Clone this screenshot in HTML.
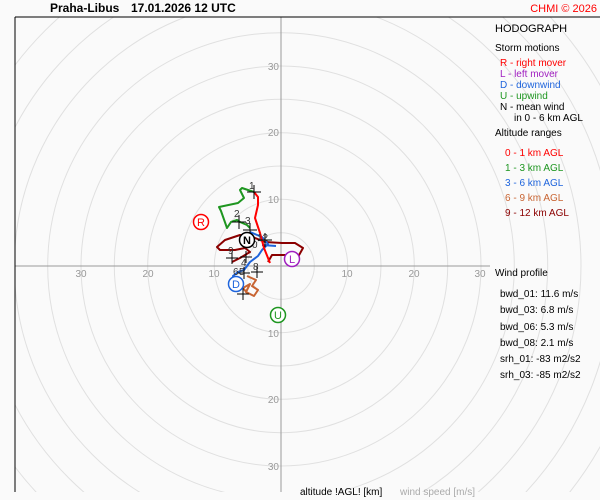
<!DOCTYPE html>
<html><head><meta charset="utf-8"><style>
html,body{margin:0;background:#fafafa;width:600px;height:500px;overflow:hidden}
svg{display:block;font-family:"Liberation Sans",sans-serif}
</style></head><body>
<svg width="600" height="500" viewBox="0 0 600 500">
<rect width="600" height="500" fill="#fafafa"/>
<defs><clipPath id="c"><rect x="15" y="17" width="585" height="475"/></clipPath></defs>
<g clip-path="url(#c)" fill="none" stroke="#e0e0e0" stroke-width="1">
<circle cx="281" cy="266" r="33.3"/><circle cx="281" cy="266" r="66.7"/><circle cx="281" cy="266" r="100"/>
<circle cx="281" cy="266" r="133.3"/><circle cx="281" cy="266" r="166.7"/><circle cx="281" cy="266" r="200"/>
<circle cx="281" cy="266" r="233.3"/><circle cx="281" cy="266" r="266.7"/><circle cx="281" cy="266" r="300"/>
<circle cx="281" cy="266" r="333.3"/><circle cx="281" cy="266" r="366.7"/>
</g>
<line x1="281" y1="17" x2="281" y2="492" stroke="#999"/>
<line x1="15" y1="266" x2="490" y2="266" stroke="#999"/>
<line x1="15" y1="17" x2="600" y2="17" stroke="#000"/>
<line x1="15" y1="17" x2="15" y2="492" stroke="#000"/>
<g fill="#999" font-size="10" text-anchor="end">
<text x="279" y="70">30</text><text x="279" y="136">20</text><text x="279" y="203">10</text>
<text x="279" y="337">10</text><text x="279" y="403">20</text><text x="279" y="470">30</text>
</g>
<g fill="#999" font-size="10" text-anchor="middle">
<text x="81" y="277">30</text><text x="148" y="277">20</text><text x="214" y="277">10</text>
<text x="347" y="277">10</text><text x="414" y="277">20</text><text x="480" y="277">30</text>
</g>
<g fill="none" stroke-width="2" stroke-linejoin="round">
<polyline stroke="#8b0000" points="268,262 272,255 285,255 298,257 303,248 295,243 282,243 265,242 250,236 240,235 225,240 217,247 220,250 235,250 245,248 250,252 240,258 232,262"/>
<polyline stroke="#1e64dc" points="250,232 262,237 268,244 262,250 258,256 250,262 244,270 238,272 233,276 236,282"/>
<polyline stroke="#1e64dc" points="262,245 276,246"/>
<polyline stroke="#c86432" points="247,276 256,280 252,286 258,290 254,296 246,292 250,284 243,288 248,294"/>
<polyline stroke="#ff0000" points="270,263 264,248 260,233 255,218 258,205 258,197 254,192"/>
<polyline stroke="#1e9620" points="254,192 242,188 240,190 244,198 238,203 219,207 221,211 227,228 231,222 237,220 240,222 247,225 250,228"/>
</g>
<g stroke="#000" stroke-width="1">
<path d="M247,192h14M254,185v14M232,222h14M239,215v14M243,230h14M250,223v14M258,240h14M265,233v14M226,258h12M232,252v12M240,257h12M246,251v12M238,273h12M244,267v12M251,272h12M257,266v12M237,294h12M243,288v12"/>
</g>
<g font-size="10" fill="#333">
<text x="249" y="189">1</text><text x="234" y="217">2</text><text x="245" y="224">3</text><text x="257" y="241">12</text>
<text x="252" y="248">0</text><text x="228" y="254">9</text><text x="241" y="266">4</text><text x="233" y="275">6</text><text x="239" y="275">5</text><text x="253" y="270">8</text>
</g>
<g font-size="11" font-weight="bold" text-anchor="middle" stroke-width="1.5">
<circle cx="247" cy="240" r="7.5" fill="#fff" stroke="#000"/><text x="247" y="244" fill="#000">N</text>
<circle cx="292" cy="259" r="7.5" fill="#fff" stroke="#a020c0"/><text x="292" y="263" fill="#a020c0" font-weight="normal">L</text>
<circle cx="201" cy="222" r="7.5" fill="#fff" stroke="#ff0000"/><text x="201" y="226" fill="#ff0000" font-weight="normal">R</text>
<circle cx="236" cy="284" r="7.5" fill="#fff" stroke="#1e64dc"/><text x="236" y="288" fill="#1e64dc" font-weight="normal">D</text>
<circle cx="278" cy="315" r="7.5" fill="#fff" stroke="#1e9620"/><text x="278" y="319" fill="#1e9620" font-weight="normal">U</text>
</g>
<text x="50" y="12" font-size="12" font-weight="bold">Praha-Libus</text>
<text x="131" y="12" font-size="12" font-weight="bold">17.01.2026 12 UTC</text>
<text x="597" y="12" font-size="11" fill="#ff0000" text-anchor="end">CHMI © 2026</text>
<g font-size="10">
<text x="495" y="32" font-size="11">HODOGRAPH</text>
<text x="495" y="51">Storm motions</text>
<text x="500" y="66" fill="#ff0000">R - right mover</text>
<text x="500" y="77" fill="#a020c0">L - left mover</text>
<text x="500" y="88" fill="#1e64dc">D - downwind</text>
<text x="500" y="99" fill="#1e9620">U - upwind</text>
<text x="500" y="110">N - mean wind</text>
<text x="514" y="121">in 0 - 6 km AGL</text>
<text x="495" y="136">Altitude ranges</text>
<text x="505" y="156" fill="#ff0000">0 - 1 km AGL</text>
<text x="505" y="171" fill="#1e9620">1 - 3 km AGL</text>
<text x="505" y="186" fill="#1e64dc">3 - 6 km AGL</text>
<text x="505" y="201" fill="#c86432">6 - 9 km AGL</text>
<text x="505" y="216" fill="#8b0000">9 - 12 km AGL</text>
<text x="495" y="276">Wind profile</text>
<text x="500" y="297">bwd_01: 11.6 m/s</text>
<text x="500" y="313">bwd_03: 6.8 m/s</text>
<text x="500" y="330">bwd_06: 5.3 m/s</text>
<text x="500" y="346">bwd_08: 2.1 m/s</text>
<text x="500" y="362">srh_01: -83 m2/s2</text>
<text x="500" y="378">srh_03: -85 m2/s2</text>
<text x="300" y="495">altitude !AGL! [km]</text>
<text x="400" y="495" fill="#aaa">wind speed [m/s]</text>
</g>
</svg>
</body></html>
